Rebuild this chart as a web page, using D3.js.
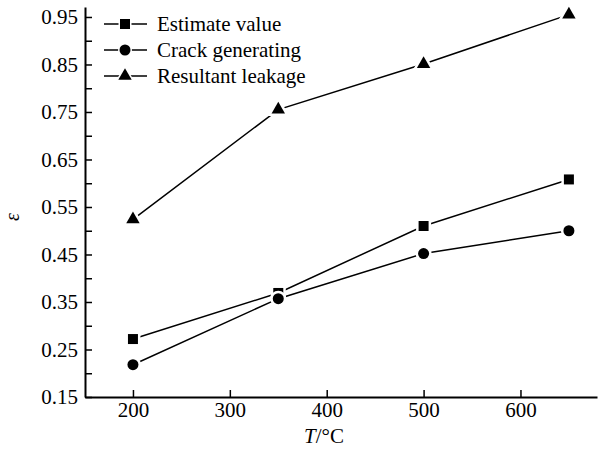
<!DOCTYPE html>
<html>
<head>
<meta charset="utf-8">
<script src="https://cdn.jsdelivr.net/npm/d3@7"></script>
<style>
  body { margin: 0; background: #fff; }
</style>
</head>
<body>
<div id="chart"></div>
<script>
const temps = [200, 350, 500, 650]
const estimateValue = [0.272, 0.369, 0.51, 0.608]
const crackGenerating = [0.218, 0.357, 0.452, 0.5]
const resultantLeakage = [0.524, 0.755, 0.851, 0.955]
const seriesNames = ["Estimate value", "Crack generating", "Resultant leakage"]
const markerTypes = [d3.symbolSquare, d3.symbolCircle, d3.symbolTriangle]
const markerSizes = [100, 95, 78]
const xTicks = [200, 300, 400, 500, 600]
const yTicks = [0.15, 0.25, 0.35, 0.45, 0.55, 0.65, 0.75, 0.85, 0.95]
const yMinor = [0.2, 0.3, 0.4, 0.5, 0.6, 0.7, 0.8, 0.9]

const width = 603, height = 457
const font = "Liberation Serif"

const svg = d3.select("#chart").append("svg").attr("width", width).attr("height", height)

const x = d3.scaleLinear().domain([150.5, 679]).range([85, 597])
const y = d3.scaleLinear().domain([0.15, 0.971]).range([397, 7])

const series = [estimateValue, crackGenerating, resultantLeakage].map((vals, i) => ({
    name: seriesNames[i],
    symbol: markerTypes[i],
    size: markerSizes[i],
    points: vals.map((v, j) => ({ t: temps[j], v: v }))
}))

// axes, ticks pointing inward
const gx = svg.append("g")
    .attr("transform", `translate(0,${y(0.15)})`)
    .call(d3.axisBottom(x).tickValues(xTicks).tickSizeInner(-7).tickSizeOuter(0).tickPadding(5))
const gy = svg.append("g")
    .attr("transform", `translate(${x(150.5)},0)`)
    .call(d3.axisLeft(y).tickValues(yTicks).tickFormat(d3.format(".2f")).tickSizeInner(-7).tickSizeOuter(0).tickPadding(7))

svg.append("g")
    .attr("transform", `translate(${x(150.5)},0)`)
    .call(d3.axisLeft(y).tickValues(yMinor).tickFormat("").tickSizeInner(-7).tickSizeOuter(0))
    .select(".domain").remove()

gx.attr("font-family", font).attr("font-size", 21)
gy.attr("font-family", font).attr("font-size", 21)
svg.selectAll(".domain").attr("stroke", "#000").attr("stroke-width", 2)
svg.selectAll(".tick line").attr("stroke", "#000").attr("stroke-width", 1.5)
svg.selectAll(".tick text")
    .style("font-family", font)
    .style("font-size", "21px")
    .attr("fill", "#000")

// lines
const line = d3.line().x(d => x(d.t)).y(d => y(d.v))
svg.selectAll(".series-line")
    .data(series)
    .join("path")
    .attr("class", "series-line")
    .attr("d", d => line(d.points))
    .attr("fill", "none")
    .attr("stroke", "#000")
    .attr("stroke-width", 1.5)

// markers with white gap around them
series.forEach(s => {
    svg.append("g").selectAll("path")
        .data(s.points)
        .join("path")
        .attr("transform", d => `translate(${x(d.t)},${y(d.v)})`)
        .attr("d", d3.symbol().type(s.symbol).size(s.size))
        .attr("fill", "#000")
        .attr("stroke", "#fff")
        .attr("stroke-width", 5)
        .attr("paint-order", "stroke")
})

// legend
const legend = svg.append("g").attr("transform", "translate(104,24)")
series.forEach((s, i) => {
    const g = legend.append("g").attr("transform", `translate(0,${i * 26})`)
    g.append("line").attr("x1", 0).attr("x2", 43).attr("y1", 0).attr("y2", 0)
        .attr("stroke", "#000").attr("stroke-width", 1.5)
    g.append("path").attr("transform", "translate(21,0)")
        .attr("d", d3.symbol().type(s.symbol).size(s.size))
        .attr("fill", "#000").attr("stroke", "#fff").attr("stroke-width", 3).attr("paint-order", "stroke")
    g.append("text").attr("x", 53).attr("y", 7).style("font-family", font).style("font-size", "21px").text(s.name)
})

// axis titles
svg.append("text").attr("transform", "translate(19,217) rotate(-90)")
    .style("font-family", font).style("font-size", "20px").style("font-style", "italic")
    .attr("text-anchor", "middle").text("ε")

const xt = svg.append("text").attr("x", 324).attr("y", 443)
    .style("font-family", font).style("font-size", "21px")
    .attr("text-anchor", "middle")
xt.append("tspan").style("font-style", "italic").text("T")
xt.append("tspan").text("/°C")
</script>
</body>
</html>
